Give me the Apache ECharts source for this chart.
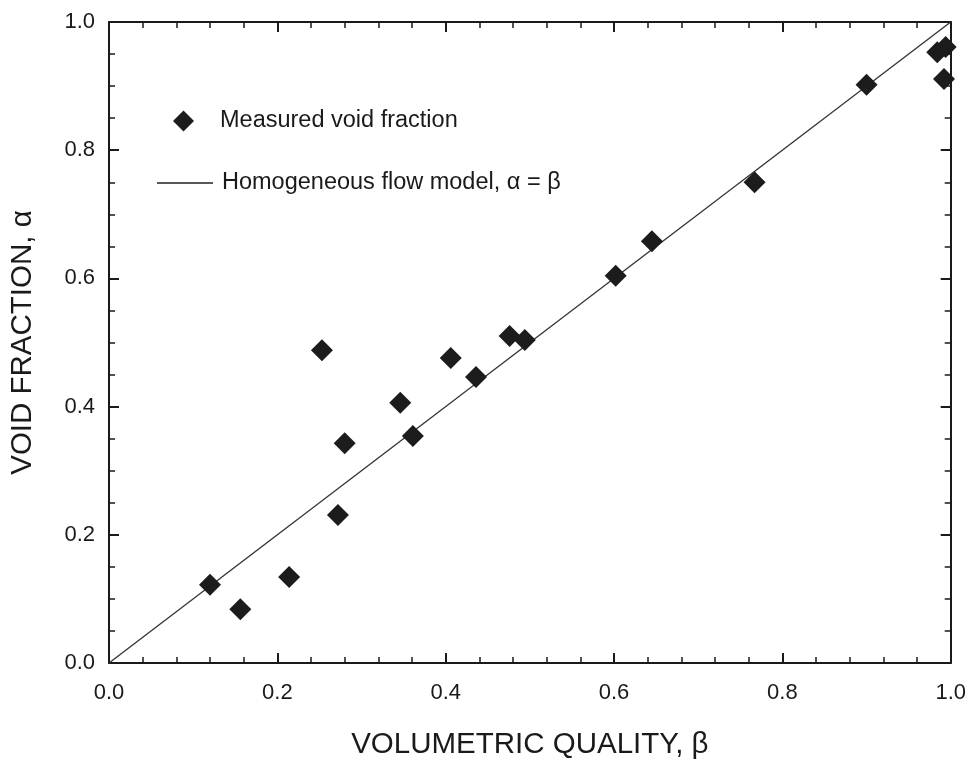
<!DOCTYPE html>
<html><head><meta charset="utf-8">
<script src="https://cdn.jsdelivr.net/npm/echarts@6/dist/echarts.min.js"></script>
<style>html,body{margin:0;padding:0;background:#fff}#c{width:969px;height:768px}</style>
</head><body><div id="c"></div>
<script>
const beta = [0.120, 0.156, 0.214, 0.253, 0.272, 0.280, 0.346, 0.361, 0.406, 0.436, 0.476, 0.494, 0.602, 0.645, 0.767, 0.900, 0.984, 0.994, 0.992];
const alpha = [0.122, 0.084, 0.134, 0.488, 0.231, 0.343, 0.406, 0.354, 0.476, 0.446, 0.510, 0.504, 0.604, 0.658, 0.750, 0.902, 0.953, 0.961, 0.911];
const modelX = [0, 1];
const modelY = [0, 1];
const tickLabels = ['0.0','0.2','0.4','0.6','0.8','1.0'];
const measuredName = 'Measured void fraction';
const modelName = 'Homogeneous flow model, \u03b1 = \u03b2';

const font = 'Liberation Sans, Arial, sans-serif';
const ink = '#1a1a1a';
const chart = echarts.init(document.getElementById('c'));
const baseAxis = {
  type: 'value', min: 0, max: 1, interval: 0.2,
  axisLine: {show: true, onZero: false, lineStyle: {color: ink, width: 2}},
  axisTick: {show: true, inside: true, length: 10, lineStyle: {color: ink, width: 2}},
  minorTick: {show: true, length: 6, lineStyle: {color: ink, width: 1.5}},
  splitLine: {show: false}
};
chart.setOption({
  animation: false,
  backgroundColor: '#fff',
  grid: {left: 104, right: 15, top: 22, bottom: 105},
  legend: [
    {data: [{name: measuredName, icon: 'diamond'}], left: 168, top: 104, itemWidth: 21, itemHeight: 21,
     textStyle: {fontFamily: font, fontSize: 23.5, color: ink, padding: [0, 0, 0, 21]}},
    {data: [{name: modelName, icon: 'path://M0,0 L56,0 L56,1.6 L0,1.6 Z', itemStyle: {color: '#222'}}],
     left: 152, top: 166, itemWidth: 56, itemHeight: 2,
     textStyle: {fontFamily: font, fontSize: 23.5, color: ink, padding: [0, 0, 0, 4]}}
  ],
  xAxis: [
    Object.assign({}, baseAxis, {position: 'bottom', minorTick: Object.assign({}, baseAxis.minorTick, {splitNumber: 5}),
      name: 'VOLUMETRIC QUALITY, \u03b2', nameLocation: 'middle', nameGap: 67,
      nameTextStyle: {fontFamily: font, fontSize: 29.5, color: ink},
      axisLabel: {margin: 19, fontFamily: font, fontSize: 22, color: ink, formatter: v => tickLabels[Math.round(v/0.2)]}}),
    Object.assign({}, baseAxis, {position: 'top', minorTick: Object.assign({}, baseAxis.minorTick, {splitNumber: 5}),
      axisLabel: {show: false}})
  ],
  yAxis: [
    Object.assign({}, baseAxis, {position: 'left', minorTick: Object.assign({}, baseAxis.minorTick, {splitNumber: 4}),
      name: 'VOID FRACTION, \u03b1', nameLocation: 'middle', nameGap: 71,
      nameTextStyle: {fontFamily: font, fontSize: 29.5, color: ink},
      axisLabel: {margin: 14, fontFamily: font, fontSize: 22, color: ink, formatter: v => tickLabels[Math.round(v/0.2)]}}),
    Object.assign({}, baseAxis, {position: 'right', minorTick: Object.assign({}, baseAxis.minorTick, {splitNumber: 4}),
      axisLabel: {show: false}})
  ],
  series: [
    {name: modelName, type: 'line', data: modelX.map((x, i) => [x, modelY[i]]),
     showSymbol: false, symbol: 'none', lineStyle: {color: '#333', width: 1.3}, itemStyle: {color: '#333'}, z: 1},
    {name: measuredName, type: 'scatter', data: beta.map((b, i) => [b, alpha[i]]),
     symbol: 'diamond', symbolSize: 22, itemStyle: {color: '#1c1c1c', opacity: 1}, z: 3}
  ]
});
</script></body></html>
